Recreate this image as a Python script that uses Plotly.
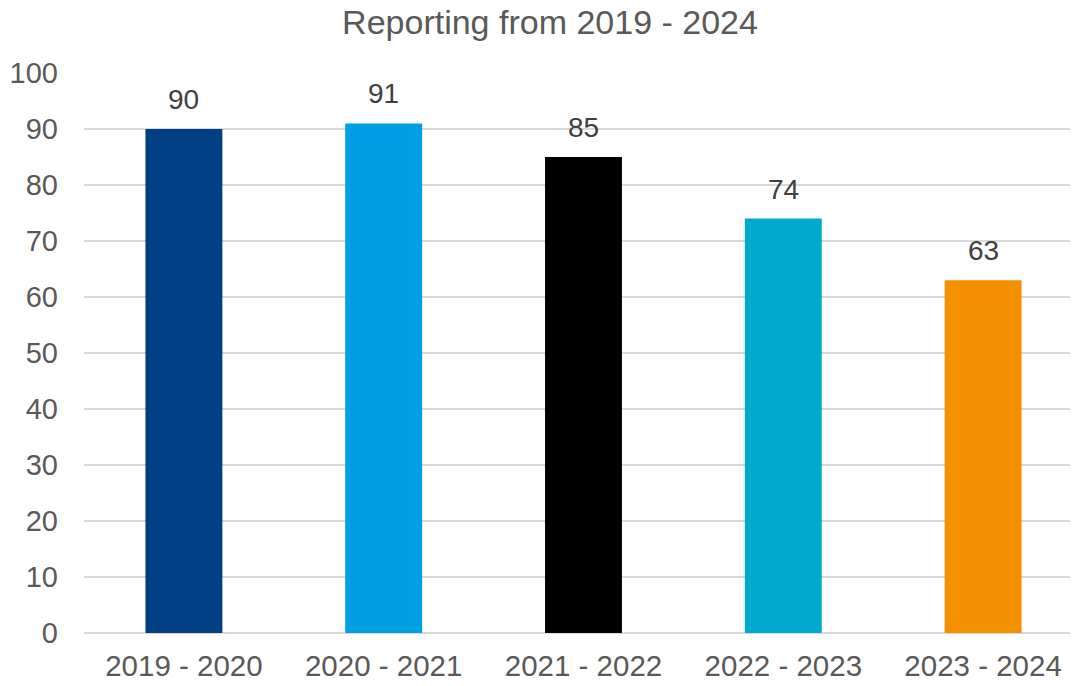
import plotly.graph_objects as go

categories = ["2019 - 2020", "2020 - 2021", "2021 - 2022", "2022 - 2023", "2023 - 2024"]
values = [90, 91, 85, 74, 63]
bar_colors = ["#003F83", "#009FE3", "#000000", "#00A9CE", "#F39000"]
y_ticks = [0, 10, 20, 30, 40, 50, 60, 70, 80, 90, 100]

FONT = "Liberation Sans, Arial"

fig = go.Figure()
fig.add_trace(go.Bar(
    x=categories, y=values, marker=dict(color=bar_colors, line=dict(width=0)),
    hoverinfo="x+y",
))

for c, v in zip(categories, values):
    fig.add_annotation(x=c, y=v, text=str(v), showarrow=False, yanchor="bottom",
                       yshift=12, font=dict(family=FONT, size=28, color="#404040"))

fig.update_layout(
    width=1070, height=678,
    margin=dict(l=76, r=0, t=65, b=53),
    paper_bgcolor="white", plot_bgcolor="white",
    bargap=0.615,
    showlegend=False,
    title=dict(text="Reporting from 2019 - 2024", x=(550 - 8) / 1070, xanchor="center",
               y=1 - 14/678, yref="container", yanchor="middle",
               font=dict(family=FONT, size=34, color="#595959")),
    font=dict(family=FONT, color="#595959"),
)
fig.update_xaxes(range=[-0.5, 4.475], showgrid=False, showline=False, ticks="",
                 automargin=False,
                 tickfont=dict(size=29.5, color="#595959"), ticklabelstandoff=12)
fig.update_yaxes(range=[0, 100], tickvals=y_ticks, showgrid=True, gridcolor="#D9D9D9",
                 gridwidth=2, zeroline=True, zerolinecolor="#D9D9D9", zerolinewidth=2,
                 showline=False, ticks="", automargin=False,
                 tickfont=dict(size=29, color="#595959"),
                 ticklabelstandoff=25)

fig.write_html("out.html")
